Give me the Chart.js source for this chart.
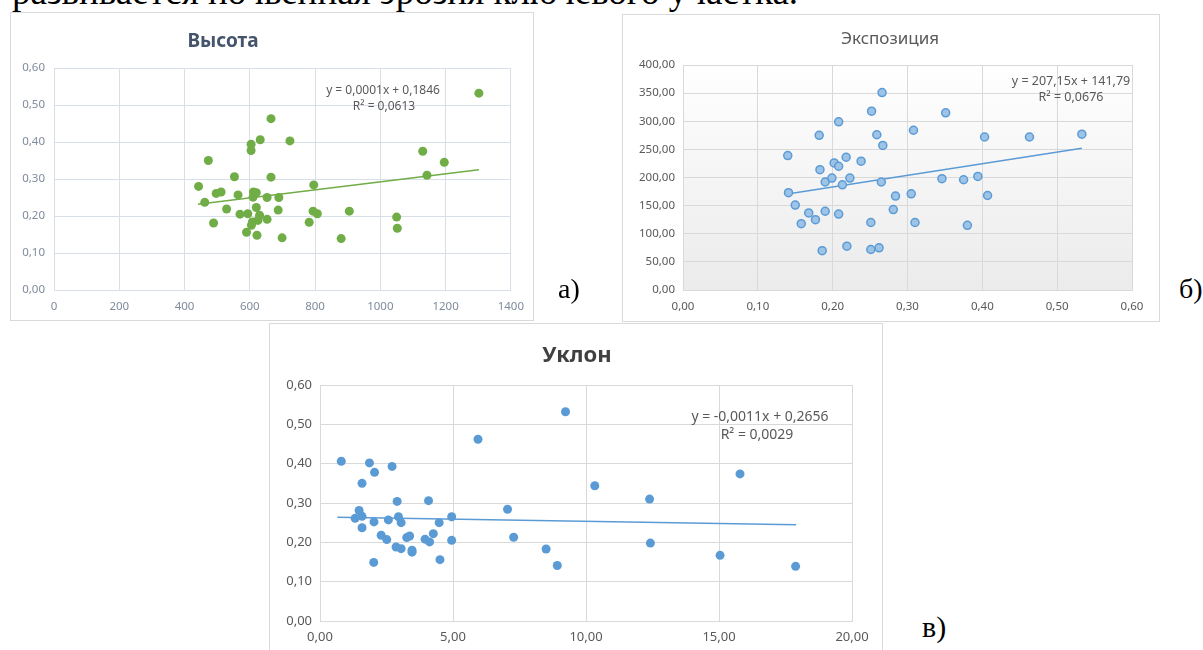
<!DOCTYPE html>
<html>
<head>
<meta charset="utf-8">
<script src="https://cdn.jsdelivr.net/npm/chart.js@4.4.1/dist/chart.umd.min.js"></script>
<style>
  body { margin: 0; width: 1203px; height: 650px; overflow: hidden; background: #fff; position: relative; font-family: "Noto Sans", sans-serif; }
  .frame { position: absolute; box-sizing: border-box; border: 1px solid #d9d9d9; background: #fff; }
  canvas { position: absolute; }
  .t { position: absolute; white-space: nowrap; transform: translate(-50%, -50%); line-height: 1; }
  .serif { position: absolute; white-space: nowrap; color: #000; font-family: "Liberation Serif", "Times New Roman", serif; line-height: 1; }
</style>
</head>
<body>
<div class="serif" style="left:12px; top:-27px; font-size:37px;">развивается почвенная эрозия ключевого участка.</div>

<div class="frame" style="left:10px; top:12px; width:524px; height:309px;"></div>
<div class="frame" style="left:622px; top:14px; width:538px; height:308px;"></div>
<div class="frame" style="left:269px; top:323px; width:614px; height:340px;"></div>

<canvas id="chartHeight" width="524" height="309" style="left:10px; top:12px;"></canvas>
<canvas id="chartExpo" width="538" height="308" style="left:622px; top:14px;"></canvas>
<canvas id="chartSlope" width="614" height="327" style="left:269px; top:323px;"></canvas>

<div class="t" style="left:223px; top:40px; font-size:19px; font-weight:bold; color:#44546a;">Высота</div>
<div class="t" style="left:383px; top:90px; font-size:12px; color:#595959;">y = 0,0001x + 0,1846</div>
<div class="t" style="left:384px; top:106px; font-size:12px; color:#595959;">R² = 0,0613</div>

<div class="t" style="left:890px; top:37px; font-size:17px; color:#595959;">Экспозиция</div>
<div class="t" style="left:1071px; top:81px; font-size:12.5px; color:#595959;">y = 207,15x + 141,79</div>
<div class="t" style="left:1071px; top:97px; font-size:12.5px; color:#595959;">R² = 0,0676</div>

<div class="t" style="left:577px; top:353px; font-size:22px; font-weight:bold; color:#404040;">Уклон</div>
<div class="t" style="left:760px; top:416px; font-size:14px; color:#595959;">y = -0,0011x + 0,2656</div>
<div class="t" style="left:757px; top:434px; font-size:14px; color:#595959;">R² = 0,0029</div>

<div class="serif" style="left:558px; top:275px; font-size:28px;">а)</div>
<div class="serif" style="left:1179px; top:275px; font-size:28px;">б)</div>
<div class="serif" style="left:922px; top:612px; font-size:30px;">в)</div>

<script>
// Высота: высота (м) против показателя
const heightX = [1302, 665, 632, 723, 604, 604, 473, 1130, 1196, 553, 665, 1143, 443, 796, 497, 512, 564, 611, 620, 610, 653, 689, 462, 529, 620, 687, 570, 594, 630, 794, 807, 905, 1050, 653, 625, 608, 605, 489, 782, 1052, 590, 622, 699, 880];
const heightY = [0.532, 0.463, 0.406, 0.403, 0.394, 0.377, 0.350, 0.375, 0.345, 0.306, 0.305, 0.310, 0.280, 0.284, 0.261, 0.265, 0.257, 0.265, 0.263, 0.251, 0.250, 0.250, 0.237, 0.219, 0.223, 0.216, 0.205, 0.206, 0.202, 0.213, 0.206, 0.213, 0.197, 0.191, 0.188, 0.184, 0.175, 0.181, 0.183, 0.167, 0.156, 0.148, 0.141, 0.139];
const heightTrendX = [441, 1302];
const heightTrendY = [0.232, 0.325];

// Экспозиция
const expoX = [0.140, 0.141, 0.150, 0.158, 0.168, 0.177, 0.182, 0.183, 0.186, 0.190, 0.190, 0.199, 0.202, 0.208, 0.208, 0.208, 0.213, 0.218, 0.219, 0.223, 0.238, 0.251, 0.251, 0.252, 0.259, 0.262, 0.265, 0.266, 0.267, 0.281, 0.284, 0.305, 0.308, 0.310, 0.346, 0.351, 0.375, 0.380, 0.394, 0.403, 0.407, 0.463, 0.533];
const expoY = [239, 173, 151, 118, 137, 125, 275, 214, 70, 192, 140, 199, 226, 299, 220, 135, 187, 236, 78, 199, 229, 120, 72, 318, 276, 75, 192, 351, 257, 143, 167, 171, 284, 120, 198, 315, 196, 115, 202, 272, 168, 272, 277];
const expoTrendX = [0.146, 0.533];
const expoTrendY = [172, 252];

// Уклон
const slopeX = [0.80, 1.86, 2.71, 2.05, 1.58, 5.94, 9.23, 10.33, 15.79, 12.39, 2.90, 4.08, 7.05, 1.47, 1.32, 1.58, 2.95, 4.95, 2.57, 2.03, 3.05, 4.48, 1.58, 2.30, 2.51, 4.26, 3.26, 3.37, 3.95, 4.12, 4.95, 7.28, 2.86, 3.05, 3.46, 3.46, 12.42, 8.50, 2.02, 4.51, 8.92, 15.04, 17.88];
const slopeY = [0.406, 0.402, 0.393, 0.378, 0.350, 0.462, 0.532, 0.344, 0.374, 0.310, 0.304, 0.306, 0.284, 0.281, 0.261, 0.266, 0.265, 0.265, 0.257, 0.252, 0.250, 0.250, 0.237, 0.218, 0.207, 0.222, 0.212, 0.216, 0.208, 0.201, 0.205, 0.213, 0.188, 0.184, 0.180, 0.175, 0.198, 0.183, 0.149, 0.156, 0.141, 0.167, 0.139];
const slopeTrendX = [0.65, 17.9];
const slopeTrendY = [0.264, 0.245];

const toPoints = (xs, ys) => xs.map((x, i) => ({ x: x, y: ys[i] }));
const comma = v => v.toFixed(2).replace('.', ',');

// серый градиент под областью построения (как в Excel)
const plotShade = {
  id: 'plotShade',
  beforeDraw(chart) {
    const { ctx, chartArea: a } = chart;
    const g = ctx.createLinearGradient(0, a.top, 0, a.bottom);
    g.addColorStop(0, '#ffffff');
    g.addColorStop(1, '#ebebeb');
    ctx.save();
    ctx.fillStyle = g;
    ctx.fillRect(a.left, a.top, a.width, a.height);
    ctx.restore();
  }
};

function makeChart(id, cfg) {
  const tickFont = { family: '"Noto Sans", sans-serif', size: cfg.fontSize };
  return new Chart(document.getElementById(id), {
    type: 'scatter',
    data: {
      datasets: [
        {
          data: cfg.points,
          backgroundColor: cfg.fill,
          borderColor: cfg.stroke,
          borderWidth: cfg.strokeWidth,
          pointRadius: cfg.radius,
          order: 1
        },
        {
          type: 'line',
          data: cfg.trend,
          borderColor: cfg.trendColor,
          borderWidth: 1.5,
          pointRadius: 0,
          fill: false,
          order: 2
        }
      ]
    },
    options: {
      responsive: false,
      animation: false,
      layout: { padding: { top: cfg.top, right: cfg.right, left: 0, bottom: 0 } },
      plugins: { legend: { display: false }, tooltip: { enabled: false } },
      scales: {
        x: {
          type: 'linear',
          min: cfg.xMin, max: cfg.xMax,
          ticks: { stepSize: cfg.xStep, color: cfg.tickColor, font: tickFont, padding: cfg.xPad, callback: cfg.xFormat, maxRotation: 0 },
          grid: { color: cfg.gridColor, drawTicks: false },
          border: { color: cfg.gridColor },
          afterFit: s => { s.height = cfg.bottom; }
        },
        y: {
          type: 'linear',
          min: cfg.yMin, max: cfg.yMax,
          ticks: { stepSize: cfg.yStep, color: cfg.tickColor, font: tickFont, padding: cfg.yPad, callback: cfg.yFormat },
          grid: { color: cfg.gridColor, drawTicks: false },
          border: { color: cfg.gridColor },
          afterFit: s => { s.width = cfg.left; }
        }
      }
    },
    plugins: cfg.plugins || []
  });
}

makeChart('chartHeight', {
  points: toPoints(heightX, heightY),
  trend: toPoints(heightTrendX, heightTrendY),
  fill: '#70ad47', stroke: '#70ad47', strokeWidth: 0, radius: 4.5, trendColor: '#70ad47',
  xMin: 0, xMax: 1400, xStep: 200, xFormat: v => String(v),
  yMin: 0, yMax: 0.6, yStep: 0.1, yFormat: comma,
  top: 56, right: 23, left: 44, bottom: 31, xPad: 10, yPad: 9,
  fontSize: 11.5, tickColor: '#7f8b9c', gridColor: '#d9dfe8'
});

makeChart('chartExpo', {
  points: toPoints(expoX, expoY),
  trend: toPoints(expoTrendX, expoTrendY),
  fill: '#9dc3e6', stroke: '#5b9bd5', strokeWidth: 1.5, radius: 4, trendColor: '#5b9bd5',
  xMin: 0, xMax: 0.6, xStep: 0.1, xFormat: comma,
  yMin: 0, yMax: 400, yStep: 50, yFormat: comma,
  top: 51, right: 28, left: 61, bottom: 32, xPad: 10, yPad: 8,
  fontSize: 11.5, tickColor: '#595959', gridColor: '#d9d9d9',
  plugins: [plotShade]
});

makeChart('chartSlope', {
  points: toPoints(slopeX, slopeY),
  trend: toPoints(slopeTrendX, slopeTrendY),
  fill: '#5b9bd5', stroke: '#5b9bd5', strokeWidth: 0, radius: 4.5, trendColor: '#5b9bd5',
  xMin: 0, xMax: 20, xStep: 5, xFormat: comma,
  yMin: 0, yMax: 0.6, yStep: 0.1, yFormat: comma,
  top: 62, right: 31, left: 51, bottom: 29, xPad: 8, yPad: 8,
  fontSize: 13, tickColor: '#595959', gridColor: '#d9d9d9'
});
</script>
</body>
</html>
